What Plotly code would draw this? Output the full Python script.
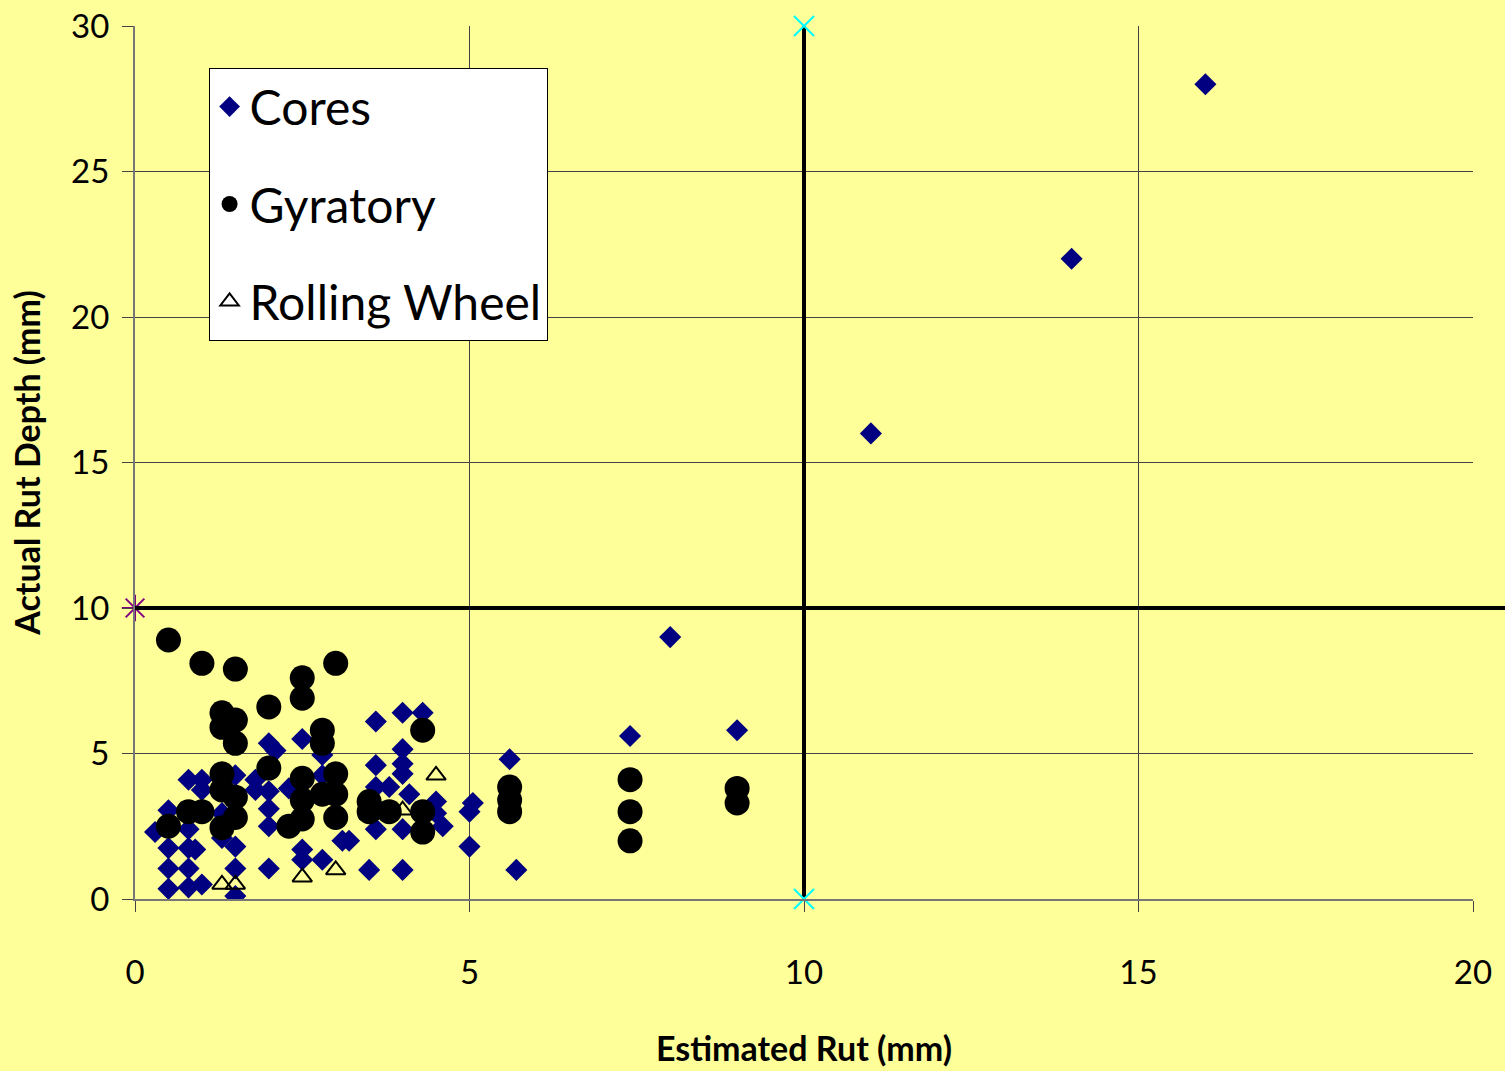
import plotly.graph_objects as go

# ---- data ----
cores_x = [0.3, 0.5, 0.5, 0.5, 0.5, 0.8, 1.0, 0.8, 0.8, 0.9, 0.8, 0.8, 1.0, 1.0, 1.3, 1.5, 1.5, 1.5, 1.5,
           1.8, 1.8, 2.0, 2.1, 2.0, 2.0, 2.0, 2.0, 2.3, 2.5, 2.5, 2.5, 2.8, 2.8, 2.8, 3.1, 1.3,
           3.6, 4.0, 4.3, 4.0, 3.6, 4.0, 4.0, 3.6, 3.8, 4.1, 4.5, 4.5, 4.6, 3.6, 4.0, 5.05, 5.0, 5.0,
           3.5, 4.0, 5.6, 5.7, 3.2, 7.4, 8.0, 9.0, 11.0, 14.0, 16.0]
cores_y = [2.3, 3.05, 1.75, 1.05, 0.35, 4.1, 4.1, 2.4, 1.75, 1.7, 1.05, 0.4, 0.5, 3.75, 2.1, 1.8, 1.05, 0.1, 4.25,
           4.1, 3.75, 5.35, 5.1, 3.7, 3.1, 2.5, 1.05, 3.8, 5.5, 1.7, 1.35, 1.35, 4.95, 4.25, 2.0, 2.95,
           6.1, 6.4, 6.4, 5.15, 4.6, 4.65, 4.3, 3.85, 3.85, 3.6, 3.35, 2.95, 2.5, 2.4, 2.4, 3.3, 3.0, 1.8,
           1.0, 1.0, 4.8, 1.0, 2.0, 5.6, 9.0, 5.8, 16.0, 22.0, 28.0]

gyr_x = [0.5, 1.0, 1.5, 2.5, 2.5, 3.0, 2.0, 1.3, 1.3, 1.5, 1.5, 2.8, 2.8, 2.0, 1.3, 1.3, 1.5, 1.5, 1.3,
         2.5, 2.5, 2.5, 3.0, 3.0, 3.0, 2.8, 2.3, 0.8, 1.0, 0.5,
         4.3, 3.5, 3.5, 3.8, 4.3, 4.3, 5.6, 5.6, 5.6, 7.4, 7.4, 7.4, 9.0, 9.0]
gyr_y = [8.9, 8.1, 7.9, 7.6, 6.9, 8.1, 6.6, 6.4, 5.9, 6.15, 5.35, 5.8, 5.35, 4.5, 4.3, 3.75, 3.5, 2.8, 2.45,
         4.15, 3.4, 2.75, 4.3, 3.6, 2.8, 3.6, 2.5, 3.0, 3.0, 2.5,
         5.8, 3.35, 3.0, 3.0, 3.0, 2.3, 3.85, 3.4, 3.0, 4.1, 3.0, 2.0, 3.8, 3.3]

roll_x = [1.3, 1.5, 2.5, 3.0, 4.5, 4.0, 3.5]
roll_y = [0.5, 0.5, 0.75, 1.0, 4.25, 3.05, 2.9]

vline_x = [10, 10]
vline_y = [0, 30]
hline_y = 10
star_x = [0]
star_y = [10]

x_ticks = [0, 5, 10, 15, 20]
y_ticks = [0, 5, 10, 15, 20, 25, 30]

BG = "#FFFF99"
FONT = "Comic Sans MS, Lato, Open Sans, sans-serif"

fig = go.Figure()

fig.add_trace(go.Scatter(x=vline_x, y=vline_y, mode="lines", showlegend=False,
                         line=dict(color="black", width=4)))
fig.add_trace(go.Scatter(x=vline_x, y=vline_y, mode="markers", showlegend=False,
                         marker=dict(symbol="x-thin-open", size=20, color="#00FFFF",
                                     line=dict(color="#00FFFF", width=2)),
                         cliponaxis=False))
fig.add_trace(go.Scatter(x=star_x, y=star_y, mode="markers", showlegend=False,
                         marker=dict(symbol="asterisk-open", size=22, color="#800080",
                                     line=dict(color="#800080", width=2)),
                         cliponaxis=False))

fig.add_trace(go.Scatter(x=cores_x, y=cores_y, mode="markers", name="Cores", legendgroup="a",
                         marker=dict(symbol="diamond", size=17, color="#000080")))
fig.add_trace(go.Scatter(x=gyr_x, y=gyr_y, mode="markers", name="Gyratory", legendgroup="b",
                         marker=dict(symbol="circle", size=25, color="black")))
fig.add_trace(go.Scatter(x=roll_x, y=roll_y, mode="markers", name="Rolling Wheel", legendgroup="c",
                         marker=dict(symbol="triangle-up-open", size=17, color="black",
                                     line=dict(color="black", width=2))))

fig.add_shape(type="line", xref="paper", yref="y", x0=0, x1=1.03, y0=hline_y, y1=hline_y,
              line=dict(color="black", width=4))

fig.update_layout(
    width=1505, height=1071,
    margin=dict(l=135, r=32, t=26, b=172, autoexpand=False),
    paper_bgcolor=BG, plot_bgcolor=BG,
    font=dict(family=FONT, color="black"),
    showlegend=True,
    legend=dict(x=0.055, y=0.952, xanchor="left", yanchor="top",
                bgcolor="white", bordercolor="black", borderwidth=1,
                font=dict(size=48, family=FONT), tracegroupgap=32,
                itemwidth=30),
    xaxis=dict(range=[0, 20], tickvals=x_ticks, showgrid=True, gridcolor="#444444", gridwidth=1,
               zeroline=False, showline=True, linecolor="#777777", linewidth=2,
               ticks="outside", ticklen=11, tickcolor="#444444", ticklabelstandoff=32,
               tickfont=dict(size=33), automargin=False,
               title=dict(text="<b>Estimated Rut (mm)</b>", font=dict(size=34), standoff=48)),
    yaxis=dict(range=[0, 30], tickvals=y_ticks, showgrid=True, gridcolor="#444444", gridwidth=1,
               zeroline=False, showline=True, linecolor="#777777", linewidth=2,
               ticks="outside", ticklen=11, tickcolor="#444444", ticklabelstandoff=6,
               tickfont=dict(size=33), automargin=False,
               title=dict(text="<b>Actual Rut Depth (mm)</b>", font=dict(size=34), standoff=20)),
)
fig.write_html("out.html", config={"displayModeBar": False},
               post_script="document.body.style.margin='0';document.body.style.background='%s';" % BG)
